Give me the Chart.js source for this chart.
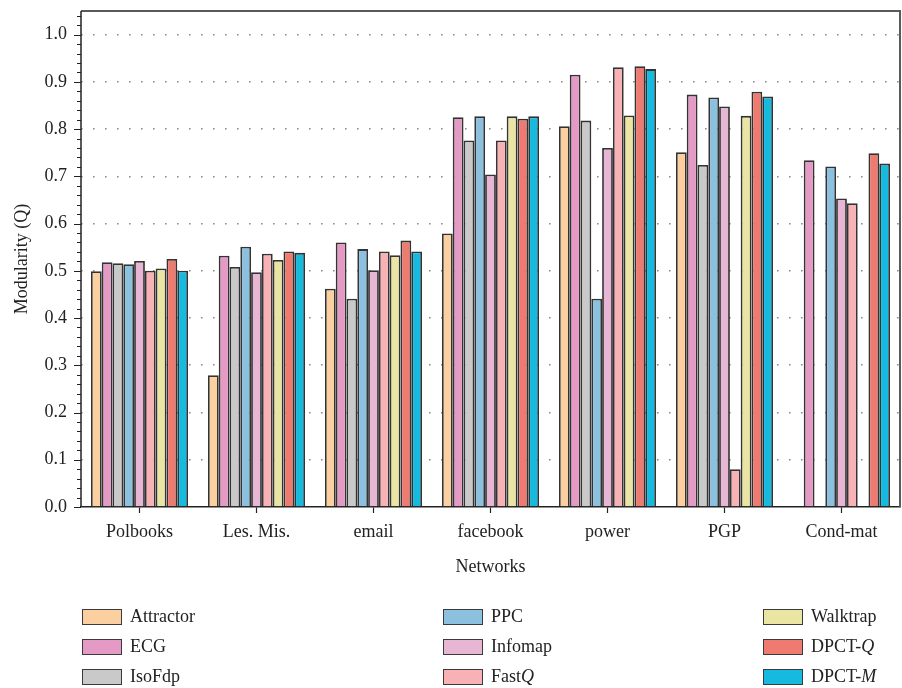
<!DOCTYPE html>
<html>
<head>
<meta charset="utf-8">
<script src="https://cdn.jsdelivr.net/npm/chart.js@4.4.1/dist/chart.umd.min.js"></script>
<style>
  html, body { margin: 0; padding: 0; background: #fff; }
  #wrap { position: relative; width: 902px; height: 688px; }
  #chart { position: absolute; left: 0; top: 0; }
  .lg { position: absolute; font-family: "Liberation Serif", "DejaVu Serif", serif; font-size: 18px; color: #222; line-height: 20px; white-space: nowrap; }
  .sw { position: absolute; width: 38px; height: 14px; border: 1.5px solid #3a3a3a; }
</style>
</head>
<body>
<div id="wrap">
  <canvas id="chart" width="902" height="688"></canvas>
</div>
<script>
// Networks on the x axis
const networks = ["Polbooks", "Les. Mis.", "email", "facebook", "power", "PGP", "Cond-mat"];

// Community detection methods, in legend order (column by column)
const methods = ["Attractor", "ECG", "IsoFdp", "PPC", "Infomap", "FastQ", "Walktrap", "DPCT-Q", "DPCT-M"];
const methodColors = ["#FBCF9F", "#E59AC5", "#C9C9C9", "#8CC0DF", "#E6B6D4", "#F8B2B5", "#EBE5A3", "#EF7A6F", "#17BADF"];

// Modularity Q per method, one value per network (null = no result)
const attractor = [0.499, 0.279, 0.462, 0.579, 0.806, 0.751, null];
const ecg       = [0.518, 0.532, 0.560, 0.825, 0.915, 0.873, 0.734];
const isoFdp    = [0.516, 0.508, 0.441, 0.776, 0.818, 0.724, null];
const ppc       = [0.514, 0.551, 0.546, 0.827, 0.441, 0.867, 0.721];
const infomap   = [0.521, 0.497, 0.501, 0.704, 0.760, 0.848, 0.653];
const fastQ     = [0.500, 0.536, 0.541, 0.776, 0.931, 0.080, 0.643];
const walktrap  = [0.505, 0.523, 0.533, 0.827, 0.829, 0.828, null];
const dpctQ     = [0.525, 0.541, 0.564, 0.822, 0.933, 0.879, 0.749];
const dpctM     = [0.500, 0.538, 0.541, 0.827, 0.927, 0.869, 0.727];

const seriesValues = [attractor, ecg, isoFdp, ppc, infomap, fastQ, walktrap, dpctQ, dpctM];

// Y axis ticks
const yMajorTicks = [0.0, 0.1, 0.2, 0.3, 0.4, 0.5, 0.6, 0.7, 0.8, 0.9, 1.0];
const yMinorStep = 0.02;
const yMax = 1.05;

const FONT = "'Liberation Serif', 'DejaVu Serif', serif";
const INK = "#222";

// Frame, axis lines and minor/major y ticks drawn around the plot area
const framePlugin = {
  id: "frame",
  afterDraw(chart) {
    const { ctx, chartArea: a, scales } = chart;
    const y = scales.y;
    ctx.save();
    ctx.setLineDash([]);
    // top and right border
    ctx.strokeStyle = "#5a5a5a";
    ctx.lineWidth = 2;
    ctx.beginPath();
    ctx.moveTo(a.left, a.top);
    ctx.lineTo(a.right, a.top);
    ctx.lineTo(a.right, a.bottom);
    ctx.stroke();
    // left axis line
    ctx.strokeStyle = INK;
    ctx.lineWidth = 1.5;
    ctx.beginPath();
    ctx.moveTo(a.left, a.top);
    ctx.lineTo(a.left, a.bottom);
    ctx.stroke();
    // y ticks (outward)
    ctx.lineWidth = 1.2;
    ctx.beginPath();
    for (let v = 0; v <= yMax + 1e-9; v += yMinorStep) {
      const py = Math.round(y.getPixelForValue(v)) + 0.5;
      const major = Math.abs(Math.round(v * 10) - v * 10) < 1e-6;
      ctx.moveTo(a.left, py);
      ctx.lineTo(a.left - (major ? 7 : 4), py);
    }
    ctx.stroke();
    ctx.restore();
  }
};

const chart = new Chart(document.getElementById("chart"), {
  type: "bar",
  data: {
    labels: networks,
    datasets: methods.map((name, i) => ({
      label: name,
      data: seriesValues[i],
      backgroundColor: methodColors[i],
      borderColor: "#333",
      borderWidth: 1.8,
      categoryPercentage: 0.83,
      barPercentage: 1.0
    }))
  },
  options: {
    responsive: false,
    animation: false,
    devicePixelRatio: 1,
    layout: { padding: { top: 11, right: 2, left: 0, bottom: 110 } },
    plugins: { legend: { display: false }, tooltip: { enabled: false } },
    scales: {
      x: {
        grid: { display: true, drawOnChartArea: false, offset: false, drawTicks: true, tickLength: 6, tickColor: INK, tickWidth: 1.2 },
        border: { display: true, color: INK, width: 1.5 },
        ticks: { color: INK, font: { family: FONT, size: 18 }, padding: 8 },
        title: { display: true, text: "Networks", color: INK, font: { family: FONT, size: 18 }, padding: { top: 2, bottom: 0 } },
        afterFit(s) { s.height = 71; s.paddingLeft = 0; s.paddingRight = 0; }
      },
      y: {
        min: 0, max: yMax,
        afterBuildTicks(s) { s.ticks = yMajorTicks.map(v => ({ value: v })); },
        grid: {
          drawTicks: false,
          color: ctx => (ctx.tick && ctx.tick.value > 0.001 && ctx.tick.value < 1.01 ? "#8a8a8a" : "rgba(0,0,0,0)"),
          lineWidth: 1.6,
        },
        // dash pattern used for the horizontal grid lines
        border: { display: false, dash: [1.6, 10.4] },
        ticks: { color: INK, font: { family: FONT, size: 18 }, padding: 14, callback: v => Number(v).toFixed(1) },
        title: { display: true, text: "Modularity (Q)", color: INK, font: { family: FONT, size: 18 }, padding: { top: 11, bottom: 0 } },
        afterFit(s) { s.width = 81; s.paddingTop = 0; s.paddingBottom = 0; }
      }
    }
  },
  plugins: [framePlugin]
});

// Legend: three columns, filled column by column
const wrap = document.getElementById("wrap");
const colX = [82, 443, 763];
const rowY = [609, 639, 669];
methods.forEach((name, i) => {
  const col = Math.floor(i / 3), row = i % 3;
  const sw = document.createElement("div");
  sw.className = "sw";
  sw.style.left = colX[col] + "px";
  sw.style.top = rowY[row] + "px";
  sw.style.background = methodColors[i];
  wrap.appendChild(sw);
  const lab = document.createElement("div");
  lab.className = "lg";
  lab.style.left = (colX[col] + 48) + "px";
  lab.style.top = (rowY[row] - 3) + "px";
  const m = name.match(/^(.*?)([QM])$/);
  if (m && (m[1].endsWith("-") || m[1] === "Fast")) {
    lab.appendChild(document.createTextNode(m[1]));
    const it = document.createElement("i");
    it.textContent = m[2];
    lab.appendChild(it);
  } else {
    lab.textContent = name;
  }
  wrap.appendChild(lab);
});
</script>
</body>
</html>
